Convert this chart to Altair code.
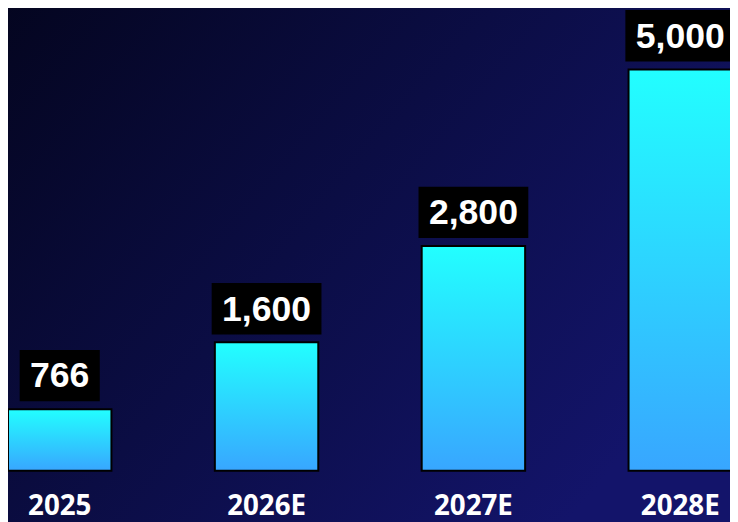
import altair as alt
import pandas as pd

years = ["2025", "2026E", "2027E", "2028E"]
values = [766, 1600, 2800, 5000]
labels = ["766", "1,600", "2,800", "5,000"]

df = pd.DataFrame({"year": years, "value": values, "label": labels})

W, H, PB = 730, 465, 49

bg_gradient = {
    "gradient": "linear", "x1": 0, "y1": 0, "x2": 1, "y2": 0.6,
    "stops": [
        {"offset": 0, "color": "#04051f"},
        {"offset": 0.5, "color": "#0b0d44"},
        {"offset": 1, "color": "#13146a"},
    ],
}
bar_gradient = {
    "gradient": "linear", "x1": 0, "y1": 0, "x2": 0, "y2": 1,
    "stops": [
        {"offset": 0, "color": "#22ffff"},
        {"offset": 1, "color": "#38a6ff"},
    ],
}

x_enc = alt.X(
    "year:N", sort=years,
    scale=alt.Scale(range=[0, 732], paddingInner=0.5, paddingOuter=0),
    axis=alt.Axis(title=None, labelAngle=0, ticks=False, domain=False, grid=False,
                  labelColor="white", labelFont="Open Sans", labelFontWeight="bold",
                  labelFontSize=28, labelBaseline="top", labelPadding=22, zindex=2),
)
y_enc = alt.Y("value:Q", scale=alt.Scale(domain=[0, 5730], nice=False), axis=None)

bg = alt.Chart(pd.DataFrame({"a": [0]})).mark_rect(fill=bg_gradient, clip=False).encode(
    x=alt.value(-10), x2=alt.value(W + 10), y=alt.value(-10), y2=alt.value(H + PB + 10)
)

bars = alt.Chart(df).mark_bar(fill=bar_gradient, stroke="black", strokeWidth=2).encode(
    x=x_enc, y=y_enc
)

boxes = alt.Chart(df).transform_calculate(
    boxw="length(replace(datum.label, ',', '')) * 20 + (length(datum.label) - length(replace(datum.label, ',', ''))) * 10 + 21"
).mark_bar(color="black", yOffset=-8, y2Offset=-60).encode(
    x=x_enc, y=y_enc, y2=alt.Y2("value:Q"),
    size=alt.Size("boxw:Q", scale=None, legend=None),
)

texts = alt.Chart(df).mark_text(
    color="white", font="Liberation Sans", fontWeight="bold", fontSize=36,
    baseline="middle", dy=-33,
).encode(x=x_enc, y=y_enc, text="label:N")

chart = alt.layer(bg, bars, boxes, texts).properties(
    width=W, height=H,
    padding={"left": 0, "right": 0, "top": 0, "bottom": PB},
    autosize=alt.AutoSizeParams(type="none"),
    background="#070830",
).configure_view(stroke=None)

chart.save("out.html", embed_options={"renderer": "svg", "actions": False})
